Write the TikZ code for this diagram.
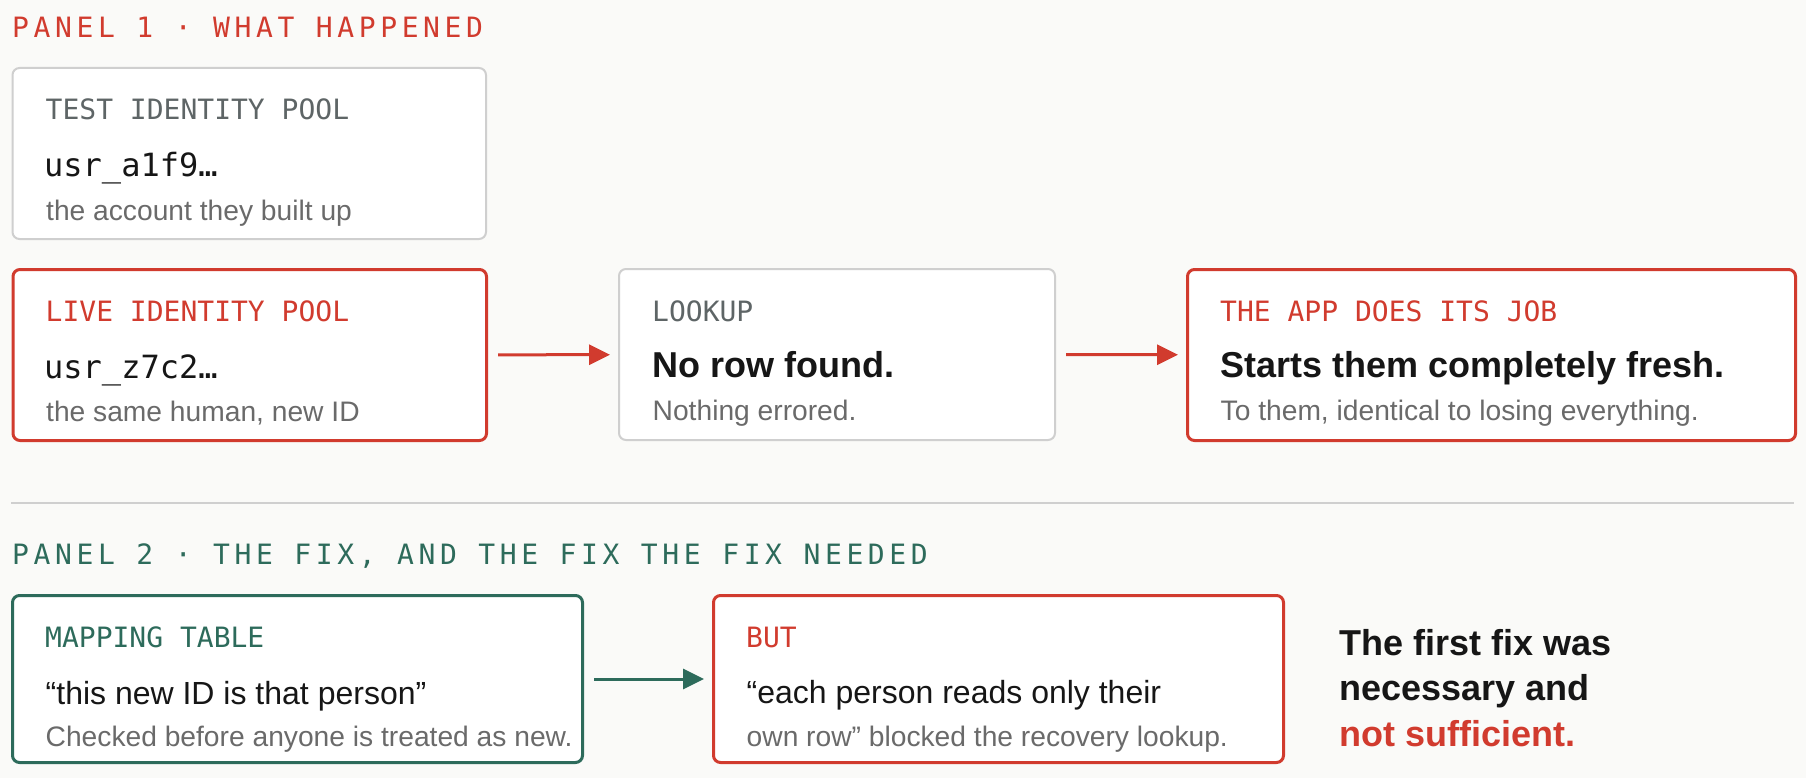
\documentclass[tikz,border=0pt]{standalone}
\usepackage{fontspec}
\setmainfont{Liberation Sans}
\newfontfamily\codefont{DejaVu Sans Mono}
\newfontfamily\spacedcode[LetterSpace=16.5]{DejaVu Sans Mono}
\usetikzlibrary{arrows.meta}

\definecolor{pagebg}{HTML}{FAFAF8}
\definecolor{alertred}{HTML}{D13B2E}
\definecolor{fixgreen}{HTML}{2D6B5B}
\definecolor{linegray}{HTML}{CFCFCF}
\definecolor{taggray}{HTML}{5E6566}
\definecolor{notegray}{HTML}{6A6A6A}
\definecolor{inkblack}{HTML}{161616}

\newcommand{\paneltitle}{\spacedcode\fontsize{28}{34}\selectfont}
\newcommand{\cardtag}{\codefont\fontsize{28}{34}\selectfont}
\newcommand{\cardid}{\codefont\fontsize{32}{38}\selectfont}
\newcommand{\cardlead}{\fontsize{36}{42}\selectfont\bfseries}
\newcommand{\cardquote}{\fontsize{32}{38}\selectfont}
\newcommand{\cardnote}{\fontsize{28.2}{34}\selectfont}

\tikzset{
  card/.style={fill=white, rounded corners=7pt, line width=2pt, inner sep=0pt, anchor=north west},
  graycard/.style={card, draw=linegray},
  redcard/.style={card, draw=alertred, line width=3pt},
  greencard/.style={card, draw=fixgreen, line width=3pt},
  txt/.style={anchor=base west, inner sep=0pt},
  tagtxt/.style={txt, font=\cardtag, text=taggray},
  idtxt/.style={txt, font=\cardid, text=inkblack},
  leadtxt/.style={txt, font=\cardlead, text=inkblack},
  quotetxt/.style={txt, font=\cardquote, text=inkblack},
  notetxt/.style={txt, font=\cardnote, text=notegray},
  flow/.style={line width=3pt, -{Triangle[length=21pt,width=20pt]}, shorten <=10pt, shorten >=8pt}
}

\begin{document}
\begin{tikzpicture}[x=1pt,y=-1pt]
\fill[pagebg] (0,0) rectangle (1806,778);
\useasboundingbox (0,0) rectangle (1806,778);

% Panel 1: what happened
\node[txt, font=\paneltitle, text=alertred] (title1) at (12,37.3) {PANEL 1 · WHAT HAPPENED};

\node[graycard, minimum width=473.5pt, minimum height=171pt] (test) at (11.5,67) {};
\node[tagtxt] (testtag) at (45.5,120) {TEST IDENTITY POOL};
\node[idtxt] (testid) at (44,177) {usr\_a1f9…};
\node[notetxt] (testnote) at (46,220) {the account they built up};

\node[redcard, minimum width=473.5pt, minimum height=171pt] (live) at (11.5,268) {};
\node[tagtxt, text=alertred] (livetag) at (45.5,321) {LIVE IDENTITY POOL};
\node[idtxt] (liveid) at (44,378) {usr\_z7c2…};
\node[notetxt] (livenote) at (46,421) {the same human, new ID};

\node[graycard, minimum width=436pt, minimum height=171pt] (lookup) at (618,268) {};
\node[tagtxt] (lookuptag) at (652,321) {LOOKUP};
\node[leadtxt] (lookuplead) at (652,377) {No row found.};
\node[notetxt] (lookupnote) at (652.5,420) {Nothing errored.};

\node[redcard, minimum width=608pt, minimum height=171pt] (app) at (1186,268) {};
\node[tagtxt, text=alertred] (apptag) at (1220,321) {THE APP DOES ITS JOB};
\node[leadtxt] (applead) at (1220,377) {Starts them completely fresh.};
\node[notetxt] (appnote) at (1220.5,420) {To them, identical to losing everything.};

\draw[flow, alertred] (live) -- (lookup);
\draw[flow, alertred] (lookup) -- (app);

% divider
\draw[linegray, line width=2pt] (11,503) -- (1794,503);

% Panel 2: the fix
\node[txt, font=\paneltitle, text=fixgreen] (title2) at (12,564) {PANEL 2 · THE FIX, AND THE FIX THE FIX NEEDED};

\node[greencard, minimum width=570pt, minimum height=167pt] (mapping) at (11,594) {};
\node[tagtxt, text=fixgreen] (mappingtag) at (45,647) {MAPPING TABLE};
\node[quotetxt] (mappingquote) at (45.5,704) {“this new ID is that person”};
\node[notetxt] (mappingnote) at (45.5,746) {Checked before anyone is treated as new.};

\node[redcard, minimum width=570pt, minimum height=167pt] (but) at (712,594) {};
\node[tagtxt, text=alertred] (buttag) at (746,647) {BUT};
\node[quotetxt] (butquote) at (746.5,703) {“each person reads only their};
\node[notetxt] (butnote) at (746.5,746) {own row” blocked the recovery lookup.};

\draw[flow, fixgreen] (mapping) -- (but);

% verdict
\node[leadtxt] (verdict1) at (1339,655) {The first fix was};
\node[leadtxt] (verdict2) at (1339,700) {necessary and};
\node[leadtxt, text=alertred] (verdict3) at (1339,746) {not sufficient.};
\end{tikzpicture}
\end{document}
